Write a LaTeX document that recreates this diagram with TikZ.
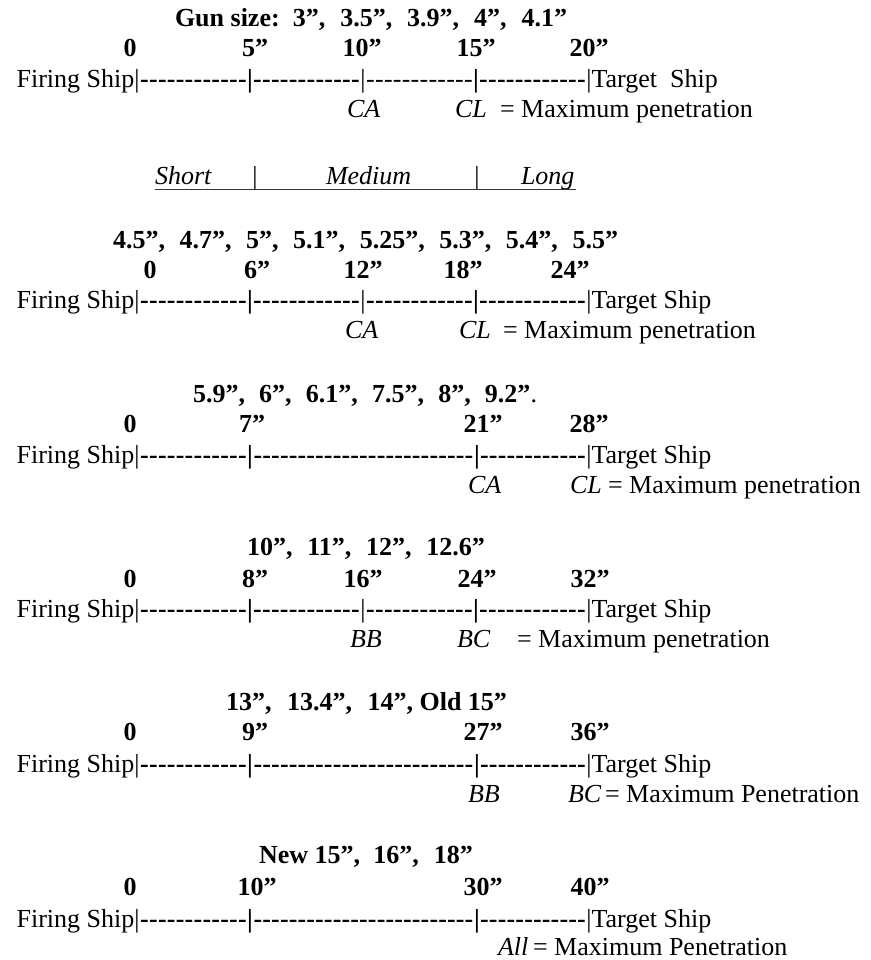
\documentclass[tikz,border=0pt]{standalone}
\usepackage{fontspec}
\setmainfont{Liberation Serif}
\newcommand{\dashfill}[1]{\hbox to #1{\xleaders\hbox{-}\hfill}}
\tikzset{
  txt/.style={inner sep=0pt, outer sep=0pt, font=\fontsize{26}{31}\selectfont},
  lft/.style={txt, anchor=base west},
  ctr/.style={txt, anchor=base},
  rgt/.style={txt, anchor=base east},
  bnum/.style={ctr, font=\fontsize{26}{31}\selectfont\bfseries},
  btitle/.style={lft, font=\fontsize{26}{31}\selectfont\bfseries},
  ulstyle/.style={line width=1.4pt, draw=black!80}
}
% five-segment scale row: #1 prefix, #2 baseline y, #3 font of third dash run
\newcommand{\fiverow}[3]{%
  \node[rgt] (#1fs) at (134.4,#2) {Firing Ship};
  \node[ctr] (#1b1) at (137,#2) {|};
  \node[ctr] (#1d1) at (193.5,#2) {\bfseries\dashfill{107pt}};
  \node[ctr] (#1b2) at (250,#2) {\bfseries|};
  \node[ctr] (#1d2) at (306.5,#2) {\bfseries\dashfill{107pt}};
  \node[ctr] (#1b3) at (363,#2) {|};
  \node[ctr] (#1d3) at (419.5,#2) {#3\dashfill{107pt}};
  \node[ctr] (#1b4) at (476,#2) {\bfseries|};
  \node[ctr] (#1d4) at (532.5,#2) {\bfseries\dashfill{107pt}};
  \node[ctr] (#1b5) at (589,#2) {|};
}
% three-segment scale row
\newcommand{\threerow}[2]{%
  \node[rgt] (#1fs) at (134.4,#2) {Firing Ship};
  \node[ctr] (#1b1) at (137,#2) {|};
  \node[ctr] (#1d1) at (193.5,#2) {\bfseries\dashfill{107pt}};
  \node[ctr] (#1b2) at (250,#2) {\bfseries|};
  \node[ctr] (#1d2) at (363.5,#2) {\bfseries\dashfill{220pt}};
  \node[ctr] (#1b3) at (477,#2) {\bfseries|};
  \node[ctr] (#1d3) at (533,#2) {\bfseries\dashfill{106pt}};
  \node[ctr] (#1b4) at (589,#2) {|};
}
\begin{document}
\begin{tikzpicture}[x=1pt,y=-1pt]
\fill[white] (0,0) rectangle (870,960);
\useasboundingbox (0,0) rectangle (870,960);

% ---------- Block 1 ----------
\node[btitle] (t1) at (175,27) {\makebox[392pt][s]{\mbox{Gun size:} 3”, 3.5”, 3.9”, 4”, 4.1”}};
\node[bnum] (n1a) at (130,57) {0};
\node[bnum] (n1b) at (255,57) {5”};
\node[bnum] (n1c) at (362,57) {10”};
\node[bnum] (n1d) at (476,57) {15”};
\node[bnum] (n1e) at (589,57) {20”};
\fiverow{r1}{88}{\mdseries}
\node[lft] (r1ts) at (591.6,88) {Target\ \ Ship};
\node[lft] (l1a) at (347,118) {\itshape CA};
\node[lft] (l1b) at (455,118) {\itshape CL};
\node[lft] (l1c) at (500,118) {= Maximum penetration};

% ---------- Short / Medium / Long ----------
\node[lft] (sS) at (155,185) {\itshape Short};
\node[ctr] (sB1) at (255,185) {|};
\node[lft] (sM) at (326,185) {\itshape Medium};
\node[ctr] (sB2) at (477,185) {|};
\node[lft] (sL) at (521,185) {\itshape Long};
\coordinate (ulA) at (155,189.5);
\coordinate (ulB) at (576,189.5);
\draw[ulstyle] (ulA) -- (ulB);

% ---------- Block 2 ----------
\node[btitle] (t2) at (113,248) {\makebox[505pt][s]{4.5”, 4.7”, 5”, 5.1”, 5.25”, 5.3”, 5.4”, 5.5”}};
\node[bnum] (n2a) at (150,278) {0};
\node[bnum] (n2b) at (257,278) {6”};
\node[bnum] (n2c) at (363,278) {12”};
\node[bnum] (n2d) at (463,278) {18”};
\node[bnum] (n2e) at (570,278) {24”};
\fiverow{r2}{308}{\bfseries}
\node[lft] (r2ts) at (591.6,308) {Target Ship};
\node[lft] (l2a) at (345,338) {\itshape CA};
\node[lft] (l2b) at (459,338) {\itshape CL};
\node[lft] (l2c) at (503,338) {= Maximum penetration};

% ---------- Block 3 ----------
\node[btitle] (t3) at (193,402) {\makebox[344pt][s]{5.9”, 6”, 6.1”, 7.5”, 8”, 9.2”\mdseries.}};
\node[bnum] (n3a) at (130,432) {0};
\node[bnum] (n3b) at (252,432) {7”};
\node[bnum] (n3c) at (483,432) {21”};
\node[bnum] (n3d) at (589,432) {28”};
\threerow{r3}{463}
\node[lft] (r3ts) at (591.6,463) {Target Ship};
\node[lft] (l3a) at (468,493) {\itshape CA};
\node[lft] (l3b) at (570,493) {\itshape CL};
\node[lft] (l3c) at (608,493) {= Maximum penetration};

% ---------- Block 4 ----------
\node[btitle] (t4) at (247,555) {\makebox[238pt][s]{10”, 11”, 12”, 12.6”}};
\node[bnum] (n4a) at (130,587) {0};
\node[bnum] (n4b) at (255,587) {8”};
\node[bnum] (n4c) at (363,587) {16”};
\node[bnum] (n4d) at (477,587) {24”};
\node[bnum] (n4e) at (590,587) {32”};
\fiverow{r4}{617}{\bfseries}
\node[lft] (r4ts) at (591.6,617) {Target Ship};
\node[lft] (l4a) at (350,647) {\itshape BB};
\node[lft] (l4b) at (457,647) {\itshape BC};
\node[lft] (l4c) at (517,647) {= Maximum penetration};

% ---------- Block 5 ----------
\node[btitle] (t5) at (226,710) {\makebox[281pt][s]{13”, 13.4”, \mbox{14”, Old 15”}}};
\node[bnum] (n5a) at (130,740) {0};
\node[bnum] (n5b) at (255,740) {9”};
\node[bnum] (n5c) at (483,740) {27”};
\node[bnum] (n5d) at (590,740) {36”};
\threerow{r5}{772}
\node[lft] (r5ts) at (591.6,772) {Target Ship};
\node[lft] (l5a) at (468,802) {\itshape BB};
\node[lft] (l5b) at (568,802) {\itshape BC};
\node[lft] (l5c) at (605,802) {= Maximum Penetration};

% ---------- Block 6 ----------
\node[btitle] (t6) at (259,863) {\makebox[214pt][s]{\mbox{New 15”,} 16”, 18”}};
\node[bnum] (n6a) at (130,895) {0};
\node[bnum] (n6b) at (257,895) {10”};
\node[bnum] (n6c) at (483,895) {30”};
\node[bnum] (n6d) at (590,895) {40”};
\threerow{r6}{927}
\node[lft] (r6ts) at (591.6,927) {Target Ship};
\node[lft] (l6a) at (498,955) {\itshape All};
\node[lft] (l6b) at (533,955) {= Maximum Penetration};
\end{tikzpicture}
\end{document}
